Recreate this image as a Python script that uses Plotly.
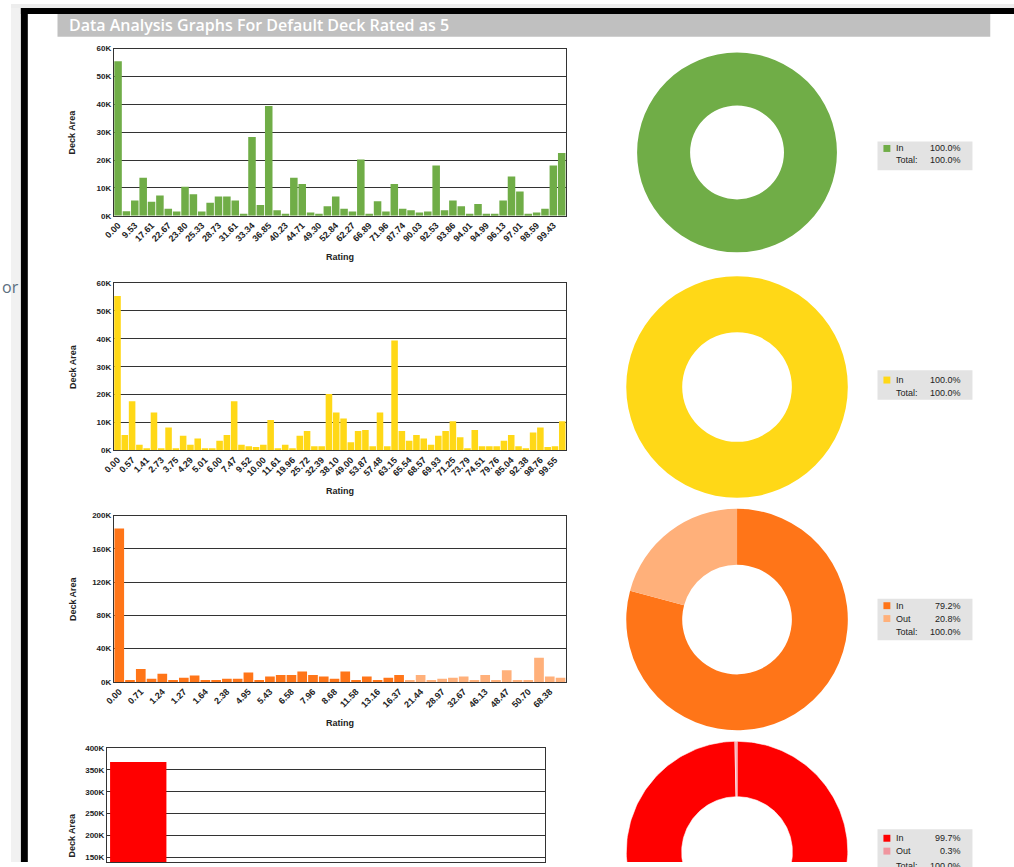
import math
import plotly.graph_objects as go

W, H = 1014, 867

# ---------------- data ----------------
title_text = "Data Analysis Graphs For Default Deck Rated as 5"

green_labels = ["0.00", "9.53", "17.61", "22.67", "23.80", "25.33", "28.73", "31.61", "33.34",
                "36.85", "40.23", "44.71", "49.30", "52.84", "62.27", "66.89", "71.96", "87.74",
                "90.03", "92.53", "93.86", "94.01", "94.99", "96.13", "97.01", "98.59", "99.43"]
green_values = [55400, 1600, 5500, 13600, 5000, 7300, 2500, 1500, 10400, 7700,
                1500, 4700, 6900, 6900, 5500, 700, 28300, 3900, 39400, 2000,
                700, 13600, 11400, 1200, 700, 3400, 6900, 2500, 1500, 20200,
                700, 5200, 1500, 11400, 2500, 2000, 1200, 1500, 18000, 2000,
                5500, 3400, 700, 4200, 700, 700, 5500, 14100, 8700, 700,
                1200, 2500, 18000, 22500]

yellow_labels = ["0.00", "0.57", "1.41", "2.73", "3.75", "4.29", "5.01", "6.00", "7.47", "9.52",
                 "10.00", "11.61", "19.96", "25.72", "32.39", "38.10", "49.00", "53.87", "57.48",
                 "63.15", "65.54", "68.57", "69.93", "71.25", "73.79", "74.51", "79.76", "85.04",
                 "92.38", "98.76", "99.55"]
yellow_values = [55400, 5500, 17600, 2000, 700, 13600, 700, 8200, 700, 5200,
                 2000, 4200, 700, 700, 3400, 5500, 17600, 2000, 1500, 1200,
                 2000, 10900, 700, 2000, 700, 5200, 6900, 1500, 1500, 20200,
                 13600, 11400, 2900, 6900, 7300, 1500, 13600, 1500, 39400, 6900,
                 3400, 5500, 4200, 2000, 5200, 6900, 10400, 4700, 700, 7300,
                 1500, 1500, 1500, 3400, 5500, 1500, 700, 6400, 8200, 1200,
                 1500, 10400]

orange_labels = ["0.00", "0.71", "1.24", "1.27", "1.64", "2.38", "4.95", "5.43", "6.58", "7.96",
                 "8.68", "11.58", "13.16", "16.37", "21.44", "28.97", "32.67", "46.13", "48.47",
                 "50.70", "68.38"]
orange_in_values = [184500, 2300, 15600, 3900, 9800, 2300, 5100, 7800, 2300, 2300,
                    3900, 3900, 11300, 2300, 6600, 8200, 8200, 12500, 8200, 6600,
                    3900, 12500, 2300, 6600, 2300, 5100, 8200]
orange_out_values = [2300, 8200, 2300, 3900, 5100, 6600, 2300, 8200, 2300, 14100,
                     2300, 2300, 28900, 6600, 5100]

red_values = [368000, 600, 300, 150, 80, 50, 20]

green_ticks = [0, 10000, 20000, 30000, 40000, 50000, 60000]
yellow_ticks = [0, 10000, 20000, 30000, 40000, 50000, 60000]
orange_ticks = [0, 40000, 80000, 120000, 160000, 200000]
red_ticks = [0, 50000, 100000, 150000, 200000, 250000, 300000, 350000, 400000]

pie_labels = ["In", "Out"]
green_pie = [100.0]
yellow_pie = [100.0]
orange_pie = [79.2, 20.8]
red_pie = [99.7, 0.3]

# ---------------- styles ----------------
GREEN = "#70AD47"
YELLOW = "#FFD817"
ORANGE = "#FF7518"
ORANGE_L = "#FFB07A"
RED = "#FF0000"
RED_L = "#F0959E"
GRID = "#333333"
YTICKFONT = dict(family="Liberation Sans, Arial, sans-serif", size=8, color="#222222", weight="bold")
XTICKFONT = dict(family="Liberation Sans, Arial, sans-serif", size=9, color="#222222", weight="bold")
LABFONT = dict(family="Liberation Sans, Arial, sans-serif", size=9, color="#222222", weight="bold")
LEGFONT = dict(family="Liberation Sans, Arial, sans-serif", size=9, color="#222222")


def fx(p):
    return p / W


def fy(p):
    return 1 - p / H


fig = go.Figure()
shapes = []
annotations = []
layout_axes = {}


def add_bar_chart(n, values, colors, labels, ticks, x0, x1, y0, y1, yrange, show_xlabels=True):
    N = len(values)
    xs = list(range(N))
    xa = "x" if n == 1 else f"x{n}"
    ya = "y" if n == 1 else f"y{n}"
    fig.add_trace(go.Bar(x=xs, y=values, marker=dict(color=colors, line=dict(width=0)),
                         xaxis=xa, yaxis=ya, showlegend=False, hoverinfo="y"))
    xkey = "xaxis" if n == 1 else f"xaxis{n}"
    ykey = "yaxis" if n == 1 else f"yaxis{n}"
    layout_axes[xkey] = dict(
        domain=[fx(x0), fx(x1)], anchor=ya, range=[-0.5, N - 0.5],
        tickmode="array", tickvals=xs[::2][:len(labels)], ticktext=labels,
        tickangle=-45, showticklabels=show_xlabels, showgrid=False, zeroline=False,
        showline=True, mirror=True, linecolor=GRID, linewidth=1, ticks="",
        tickfont=XTICKFONT, fixedrange=True)
    layout_axes[ykey] = dict(
        domain=[fy(y1), fy(y0)], anchor=xa, range=yrange,
        tickmode="array", tickvals=ticks, ticktext=[f"{t // 1000}K" for t in ticks],
        showgrid=True, gridcolor=GRID, gridwidth=1.3, zeroline=False,
        showline=True, mirror=True, linecolor=GRID, linewidth=1, ticks="",
        tickfont=YTICKFONT, fixedrange=True)


add_bar_chart(1, green_values, GREEN, green_labels, green_ticks, 104, 561, 45, 214, [0, 60000])
add_bar_chart(2, yellow_values, YELLOW, yellow_labels, yellow_ticks, 104, 561, 282, 451, [0, 60000])
orange_values = orange_in_values + orange_out_values
orange_colors = [ORANGE] * len(orange_in_values) + [ORANGE_L] * len(orange_out_values)
add_bar_chart(3, orange_values, orange_colors, orange_labels, orange_ticks, 104, 561, 517, 685, [0, 200000])
# 4th chart continues below the visible window: 22px per 50K, top (400K) at y=752
red_lo = 400000 - (867 - 752) / 22 * 50000
add_bar_chart(4, red_values, RED, [], red_ticks, 97, 540, 752, 867, [red_lo, 400000], show_xlabels=False)

fig.update_layout(bargap=0.1)

# axis titles
for cy, ry in [((45 + 214) / 2, 256), ((282 + 451) / 2, 492), ((517 + 685) / 2, 727), (840, None)]:
    annotations.append(dict(text="Deck Area", x=fx(62), y=fy(cy), xref="paper", yref="paper",
                            textangle=-90, showarrow=False, font=LABFONT, xanchor="center", yanchor="middle"))
    if ry is not None:
        annotations.append(dict(text="Rating", x=fx(333), y=fy(ry), xref="paper", yref="paper",
                                showarrow=False, font=LABFONT, xanchor="center", yanchor="middle"))

# ---------------- donuts ----------------
def add_pie(values, colors, cx, cy, r, hole):
    fig.add_trace(go.Pie(values=values, labels=pie_labels[:len(values)],
                         marker=dict(colors=colors, line=dict(width=0)),
                         hole=hole, sort=False, direction="clockwise", rotation=0,
                         textinfo="none", showlegend=False,
                         domain=dict(x=[fx(cx - r), fx(cx + r)], y=[fy(cy + r), fy(cy - r)])))


add_pie(green_pie, [GREEN], 734, 150, 101, 0.47)
add_pie(yellow_pie, [YELLOW], 734, 387, 112, 0.495)
add_pie(orange_pie, [ORANGE, ORANGE_L], 734, 622, 112, 0.495)

# 4th donut: centre lies below the window, drawn as ring slices on a hidden 1px-per-unit axis
R_OUT, R_IN = 112, 56
layout_axes["xaxis5"] = dict(domain=[fx(622), fx(846)], anchor="y5", range=[-112, 112], visible=False, fixedrange=True)
layout_axes["yaxis5"] = dict(domain=[0, fy(745)], anchor="x5", range=[-(867 - 745 - 112), 112], visible=False, fixedrange=True)


def ring(f0, f1, ro, ri, n=240):
    a0, a1 = 2 * math.pi * f0, 2 * math.pi * f1
    k = max(2, int(n * (f1 - f0)) + 2)
    angs = [a0 + (a1 - a0) * i / (k - 1) for i in range(k)]
    xs = [ro * math.sin(a) for a in angs] + [ri * math.sin(a) for a in reversed(angs)]
    ys = [ro * math.cos(a) for a in angs] + [ri * math.cos(a) for a in reversed(angs)]
    return xs + [xs[0]], ys + [ys[0]]


tot = sum(red_pie)
acc = 0.0
for v, c in zip(red_pie, [RED, RED_L]):
    xs, ys = ring(acc / tot, (acc + v) / tot, R_OUT, R_IN)
    acc += v
    fig.add_trace(go.Scatter(x=xs, y=ys, mode="lines", fill="toself", fillcolor=c,
                             line=dict(color="white", width=0.6), xaxis="x5", yaxis="y5",
                             showlegend=False, hoverinfo="skip"))

# ---------------- legends (boxes with labels) ----------------
def add_legend(box_y0, box_y1, rows_y, items, colors, total):
    shapes.append(dict(type="rect", xref="paper", yref="paper", x0=fx(876), x1=fx(972),
                       y0=fy(box_y1), y1=fy(box_y0), fillcolor="#E3E3E3", line=dict(width=0), layer="below"))
    for (lab, val), c, ry in zip(items, colors, rows_y):
        shapes.append(dict(type="rect", xref="paper", yref="paper", x0=fx(882), x1=fx(889),
                           y0=fy(ry + 3.5), y1=fy(ry - 3.5), fillcolor=c, line=dict(width=0)))
        annotations.append(dict(text=lab, x=fx(893), y=fy(ry), xref="paper", yref="paper", showarrow=False,
                                xanchor="left", yanchor="middle", font=LEGFONT))
        annotations.append(dict(text=f"{val:.1f}%", x=fx(962), y=fy(ry), xref="paper", yref="paper",
                                showarrow=False, xanchor="right", yanchor="middle", font=LEGFONT))
    ty = rows_y[len(items)]
    annotations.append(dict(text="Total:", x=fx(893), y=fy(ty), xref="paper", yref="paper", showarrow=False,
                            xanchor="left", yanchor="middle", font=LEGFONT))
    annotations.append(dict(text=f"{total:.1f}%", x=fx(962), y=fy(ty), xref="paper", yref="paper",
                            showarrow=False, xanchor="right", yanchor="middle", font=LEGFONT))


add_legend(139, 168, [146, 158], list(zip(pie_labels, green_pie)), [GREEN], sum(green_pie))
add_legend(370, 400, [380, 393], list(zip(pie_labels, yellow_pie)), [YELLOW], sum(yellow_pie))
add_legend(601, 643, [608, 621, 635], list(zip(pie_labels, orange_pie)), [ORANGE, ORANGE_L], sum(orange_pie))
add_legend(834, 885, [843, 856, 871], list(zip(pie_labels, red_pie)), [RED, RED_L], sum(red_pie))

# ---------------- frame & header ----------------
shapes += [
    dict(type="rect", xref="paper", yref="paper", x0=0, x1=fx(10), y0=0, y1=1, fillcolor="#F1F1F1", line=dict(width=0), layer="below"),
    dict(type="rect", xref="paper", yref="paper", x0=0, x1=1, y0=fy(4), y1=1, fillcolor="#EDEDED", line=dict(width=0), layer="below"),
    dict(type="rect", xref="paper", yref="paper", x0=fx(10), x1=fx(17), y0=0, y1=fy(4), fillcolor="#000000", line=dict(width=0)),
    dict(type="rect", xref="paper", yref="paper", x0=fx(10), x1=1, y0=fy(10), y1=fy(4), fillcolor="#000000", line=dict(width=0)),
    dict(type="rect", xref="paper", yref="paper", x0=fx(47), x1=fx(990), y0=fy(33), y1=fy(10), fillcolor="#C0C0C0", line=dict(width=0)),
]
annotations.append(dict(text=title_text, x=fx(57), y=fy(21.5), xref="paper", yref="paper", showarrow=False,
                        xanchor="left", yanchor="middle",
                        font=dict(family="Open Sans, sans-serif", size=16, color="white", weight=600)))
annotations.append(dict(text="or", x=fx(10), y=fy(286), xref="paper", yref="paper", showarrow=False,
                        xanchor="right", yanchor="middle", font=dict(family="Open Sans, sans-serif", size=16, color="#5B6E80")))

fig.update_layout(
    width=W, height=H, margin=dict(l=0, r=0, t=0, b=0),
    paper_bgcolor="white", plot_bgcolor="white",
    shapes=shapes, annotations=annotations, **layout_axes)

fig.write_html("out.html", config={"displayModeBar": False},
               post_script="document.body.style.margin='0';document.body.style.overflow='hidden';")
